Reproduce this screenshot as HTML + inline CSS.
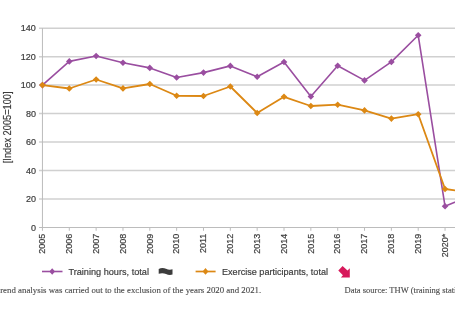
<!DOCTYPE html><html><head><meta charset="utf-8"><style>html,body{margin:0;padding:0;background:#fff;width:455px;height:314px;overflow:hidden}svg{display:block;will-change:transform}text{font-family:"Liberation Sans",sans-serif;stroke:currentColor;stroke-width:0.2px}text.sf{font-family:"Liberation Serif",serif;stroke-width:0.12px}</style></head><body>
<svg width="455" height="314" viewBox="0 0 455 314">
<line x1="39" y1="28.2" x2="455" y2="28.2" stroke="#d0d0d0" stroke-width="1.5"/>
<line x1="39" y1="56.7" x2="455" y2="56.7" stroke="#d0d0d0" stroke-width="1.5"/>
<line x1="39" y1="85.1" x2="455" y2="85.1" stroke="#d0d0d0" stroke-width="1.5"/>
<line x1="39" y1="113.6" x2="455" y2="113.6" stroke="#d0d0d0" stroke-width="1.5"/>
<line x1="39" y1="142.0" x2="455" y2="142.0" stroke="#d0d0d0" stroke-width="1.5"/>
<line x1="39" y1="170.5" x2="455" y2="170.5" stroke="#d0d0d0" stroke-width="1.5"/>
<line x1="39" y1="199.0" x2="455" y2="199.0" stroke="#d0d0d0" stroke-width="1.5"/>
<line x1="42.45" y1="28.2" x2="42.45" y2="228.0" stroke="#bcbcbc" stroke-width="1"/>
<line x1="39" y1="227.5" x2="455" y2="227.5" stroke="#bcbcbc" stroke-width="1"/>
<line x1="42.45" y1="227.5" x2="42.45" y2="230.8" stroke="#bcbcbc" stroke-width="1"/>
<line x1="69.29" y1="227.5" x2="69.29" y2="230.8" stroke="#bcbcbc" stroke-width="1"/>
<line x1="96.13" y1="227.5" x2="96.13" y2="230.8" stroke="#bcbcbc" stroke-width="1"/>
<line x1="122.97" y1="227.5" x2="122.97" y2="230.8" stroke="#bcbcbc" stroke-width="1"/>
<line x1="149.81" y1="227.5" x2="149.81" y2="230.8" stroke="#bcbcbc" stroke-width="1"/>
<line x1="176.65" y1="227.5" x2="176.65" y2="230.8" stroke="#bcbcbc" stroke-width="1"/>
<line x1="203.49" y1="227.5" x2="203.49" y2="230.8" stroke="#bcbcbc" stroke-width="1"/>
<line x1="230.33" y1="227.5" x2="230.33" y2="230.8" stroke="#bcbcbc" stroke-width="1"/>
<line x1="257.17" y1="227.5" x2="257.17" y2="230.8" stroke="#bcbcbc" stroke-width="1"/>
<line x1="284.01" y1="227.5" x2="284.01" y2="230.8" stroke="#bcbcbc" stroke-width="1"/>
<line x1="310.85" y1="227.5" x2="310.85" y2="230.8" stroke="#bcbcbc" stroke-width="1"/>
<line x1="337.69" y1="227.5" x2="337.69" y2="230.8" stroke="#bcbcbc" stroke-width="1"/>
<line x1="364.53" y1="227.5" x2="364.53" y2="230.8" stroke="#bcbcbc" stroke-width="1"/>
<line x1="391.37" y1="227.5" x2="391.37" y2="230.8" stroke="#bcbcbc" stroke-width="1"/>
<line x1="418.21" y1="227.5" x2="418.21" y2="230.8" stroke="#bcbcbc" stroke-width="1"/>
<line x1="445.05" y1="227.5" x2="445.05" y2="230.8" stroke="#bcbcbc" stroke-width="1"/>
<text x="35.9" y="31.3" font-size="9" fill="#3c3c3c" color="#3c3c3c" text-anchor="end">140</text>
<text x="35.9" y="59.8" font-size="9" fill="#3c3c3c" color="#3c3c3c" text-anchor="end">120</text>
<text x="35.9" y="88.2" font-size="9" fill="#3c3c3c" color="#3c3c3c" text-anchor="end">100</text>
<text x="35.9" y="116.7" font-size="9" fill="#3c3c3c" color="#3c3c3c" text-anchor="end">80</text>
<text x="35.9" y="145.1" font-size="9" fill="#3c3c3c" color="#3c3c3c" text-anchor="end">60</text>
<text x="35.9" y="173.6" font-size="9" fill="#3c3c3c" color="#3c3c3c" text-anchor="end">40</text>
<text x="35.9" y="202.1" font-size="9" fill="#3c3c3c" color="#3c3c3c" text-anchor="end">20</text>
<text x="35.9" y="230.6" font-size="9" fill="#3c3c3c" color="#3c3c3c" text-anchor="end">0</text>
<text transform="translate(45.25,233.7) rotate(-90)" font-size="9" fill="#3c3c3c" color="#3c3c3c" text-anchor="end">2005</text>
<text transform="translate(72.09,233.7) rotate(-90)" font-size="9" fill="#3c3c3c" color="#3c3c3c" text-anchor="end">2006</text>
<text transform="translate(98.93,233.7) rotate(-90)" font-size="9" fill="#3c3c3c" color="#3c3c3c" text-anchor="end">2007</text>
<text transform="translate(125.77,233.7) rotate(-90)" font-size="9" fill="#3c3c3c" color="#3c3c3c" text-anchor="end">2008</text>
<text transform="translate(152.61,233.7) rotate(-90)" font-size="9" fill="#3c3c3c" color="#3c3c3c" text-anchor="end">2009</text>
<text transform="translate(179.45,233.7) rotate(-90)" font-size="9" fill="#3c3c3c" color="#3c3c3c" text-anchor="end">2010</text>
<text transform="translate(206.29,233.7) rotate(-90)" font-size="9" fill="#3c3c3c" color="#3c3c3c" text-anchor="end">2011</text>
<text transform="translate(233.13,233.7) rotate(-90)" font-size="9" fill="#3c3c3c" color="#3c3c3c" text-anchor="end">2012</text>
<text transform="translate(259.97,233.7) rotate(-90)" font-size="9" fill="#3c3c3c" color="#3c3c3c" text-anchor="end">2013</text>
<text transform="translate(286.81,233.7) rotate(-90)" font-size="9" fill="#3c3c3c" color="#3c3c3c" text-anchor="end">2014</text>
<text transform="translate(313.65,233.7) rotate(-90)" font-size="9" fill="#3c3c3c" color="#3c3c3c" text-anchor="end">2015</text>
<text transform="translate(340.49,233.7) rotate(-90)" font-size="9" fill="#3c3c3c" color="#3c3c3c" text-anchor="end">2016</text>
<text transform="translate(367.33,233.7) rotate(-90)" font-size="9" fill="#3c3c3c" color="#3c3c3c" text-anchor="end">2017</text>
<text transform="translate(394.17,233.7) rotate(-90)" font-size="9" fill="#3c3c3c" color="#3c3c3c" text-anchor="end">2018</text>
<text transform="translate(421.01,233.7) rotate(-90)" font-size="9" fill="#3c3c3c" color="#3c3c3c" text-anchor="end">2019</text>
<text transform="translate(447.85,233.7) rotate(-90)" font-size="9" fill="#3c3c3c" color="#3c3c3c" text-anchor="end">2020*</text>
<text transform="translate(10.8,163.2) rotate(-90)" font-size="10.2" fill="#3c3c3c" color="#3c3c3c" textLength="71.8" lengthAdjust="spacingAndGlyphs">[Index 2005=100]</text>
<polyline points="42.45,85.1 69.29,61.4 96.13,56.0 122.97,62.7 149.81,67.9 176.65,77.5 203.49,72.6 230.33,65.9 257.17,76.8 284.01,62.0 310.85,96.5 337.69,65.8 364.53,80.4 391.37,61.9 418.21,35.3 445.05,206.3 471.89,195.1" fill="none" stroke="#9a4ea0" stroke-width="1.6" stroke-linejoin="round"/>
<path d="M42.45,81.80L45.75,85.10L42.45,88.40L39.15,85.10Z" fill="#9a4ea0"/>
<path d="M69.29,58.10L72.59,61.40L69.29,64.70L65.99,61.40Z" fill="#9a4ea0"/>
<path d="M96.13,52.70L99.43,56.00L96.13,59.30L92.83,56.00Z" fill="#9a4ea0"/>
<path d="M122.97,59.40L126.27,62.70L122.97,66.00L119.67,62.70Z" fill="#9a4ea0"/>
<path d="M149.81,64.60L153.11,67.90L149.81,71.20L146.51,67.90Z" fill="#9a4ea0"/>
<path d="M176.65,74.20L179.95,77.50L176.65,80.80L173.35,77.50Z" fill="#9a4ea0"/>
<path d="M203.49,69.30L206.79,72.60L203.49,75.90L200.19,72.60Z" fill="#9a4ea0"/>
<path d="M230.33,62.60L233.63,65.90L230.33,69.20L227.03,65.90Z" fill="#9a4ea0"/>
<path d="M257.17,73.50L260.47,76.80L257.17,80.10L253.87,76.80Z" fill="#9a4ea0"/>
<path d="M284.01,58.70L287.31,62.00L284.01,65.30L280.71,62.00Z" fill="#9a4ea0"/>
<path d="M310.85,93.20L314.15,96.50L310.85,99.80L307.55,96.50Z" fill="#9a4ea0"/>
<path d="M337.69,62.50L340.99,65.80L337.69,69.10L334.39,65.80Z" fill="#9a4ea0"/>
<path d="M364.53,77.10L367.83,80.40L364.53,83.70L361.23,80.40Z" fill="#9a4ea0"/>
<path d="M391.37,58.60L394.67,61.90L391.37,65.20L388.07,61.90Z" fill="#9a4ea0"/>
<path d="M418.21,32.00L421.51,35.30L418.21,38.60L414.91,35.30Z" fill="#9a4ea0"/>
<path d="M445.05,203.00L448.35,206.30L445.05,209.60L441.75,206.30Z" fill="#9a4ea0"/>
<polyline points="42.45,85.1 69.29,88.5 96.13,79.5 122.97,88.4 149.81,84.0 176.65,95.8 203.49,96.0 230.33,86.5 257.17,113.0 284.01,96.8 310.85,106.0 337.69,104.7 364.53,110.4 391.37,118.6 418.21,114.2 445.05,189.0 471.89,192.7" fill="none" stroke="#dc8814" stroke-width="1.8" stroke-linejoin="round"/>
<path d="M42.45,81.80L45.75,85.10L42.45,88.40L39.15,85.10Z" fill="#dc8814"/>
<path d="M69.29,85.20L72.59,88.50L69.29,91.80L65.99,88.50Z" fill="#dc8814"/>
<path d="M96.13,76.20L99.43,79.50L96.13,82.80L92.83,79.50Z" fill="#dc8814"/>
<path d="M122.97,85.10L126.27,88.40L122.97,91.70L119.67,88.40Z" fill="#dc8814"/>
<path d="M149.81,80.70L153.11,84.00L149.81,87.30L146.51,84.00Z" fill="#dc8814"/>
<path d="M176.65,92.50L179.95,95.80L176.65,99.10L173.35,95.80Z" fill="#dc8814"/>
<path d="M203.49,92.70L206.79,96.00L203.49,99.30L200.19,96.00Z" fill="#dc8814"/>
<path d="M230.33,83.20L233.63,86.50L230.33,89.80L227.03,86.50Z" fill="#dc8814"/>
<path d="M257.17,109.70L260.47,113.00L257.17,116.30L253.87,113.00Z" fill="#dc8814"/>
<path d="M284.01,93.50L287.31,96.80L284.01,100.10L280.71,96.80Z" fill="#dc8814"/>
<path d="M310.85,102.70L314.15,106.00L310.85,109.30L307.55,106.00Z" fill="#dc8814"/>
<path d="M337.69,101.40L340.99,104.70L337.69,108.00L334.39,104.70Z" fill="#dc8814"/>
<path d="M364.53,107.10L367.83,110.40L364.53,113.70L361.23,110.40Z" fill="#dc8814"/>
<path d="M391.37,115.30L394.67,118.60L391.37,121.90L388.07,118.60Z" fill="#dc8814"/>
<path d="M418.21,110.90L421.51,114.20L418.21,117.50L414.91,114.20Z" fill="#dc8814"/>
<path d="M445.05,185.70L448.35,189.00L445.05,192.30L441.75,189.00Z" fill="#dc8814"/>
<line x1="42" y1="271.5" x2="62.5" y2="271.5" stroke="#9a4ea0" stroke-width="1.6"/>
<path d="M52.2,268.2L55.1,271.5L52.2,274.8L49.3,271.5Z" fill="#9a4ea0"/>
<text x="68.4" y="275.2" font-size="9.9" fill="#3c3c3c" color="#3c3c3c" textLength="80.6" lengthAdjust="spacingAndGlyphs">Training hours, total</text>
<path d="M158.7,269 C161,267.6 164,267.8 166,268.8 C168,269.8 170.5,270 172.5,269.3 L172.5,274.5 C170.5,275.2 168,275 166,274 C164,273 161,272.8 158.7,273.8 Z" fill="#3c3c3c"/>
<line x1="195.6" y1="271.5" x2="215.6" y2="271.5" stroke="#dc8814" stroke-width="1.7"/>
<path d="M205.5,268L208.4,271.4L205.5,274.8L202.6,271.4Z" fill="#dc8814"/>
<text x="222" y="275.2" font-size="9.9" fill="#3c3c3c" color="#3c3c3c" textLength="106" lengthAdjust="spacingAndGlyphs">Exercise participants, total</text>
<path d="M342.6,266 L347.5,270.6 L349.8,268.3 L349.8,277.5 L340.9,277.5 L342.9,275.3 L338.3,270.5 Z" fill="#d7195b"/>
<text x="-2.3" y="292.5" font-size="9" class="sf" fill="#4a4a4a" color="#4a4a4a" textLength="263.5" lengthAdjust="spacingAndGlyphs">trend analysis was carried out to the exclusion of the years 2020 and 2021.</text>
<text x="344.5" y="292.5" font-size="9" class="sf" fill="#4a4a4a" color="#4a4a4a" textLength="130" lengthAdjust="spacingAndGlyphs">Data source: THW (training statistics)</text>
</svg></body></html>
